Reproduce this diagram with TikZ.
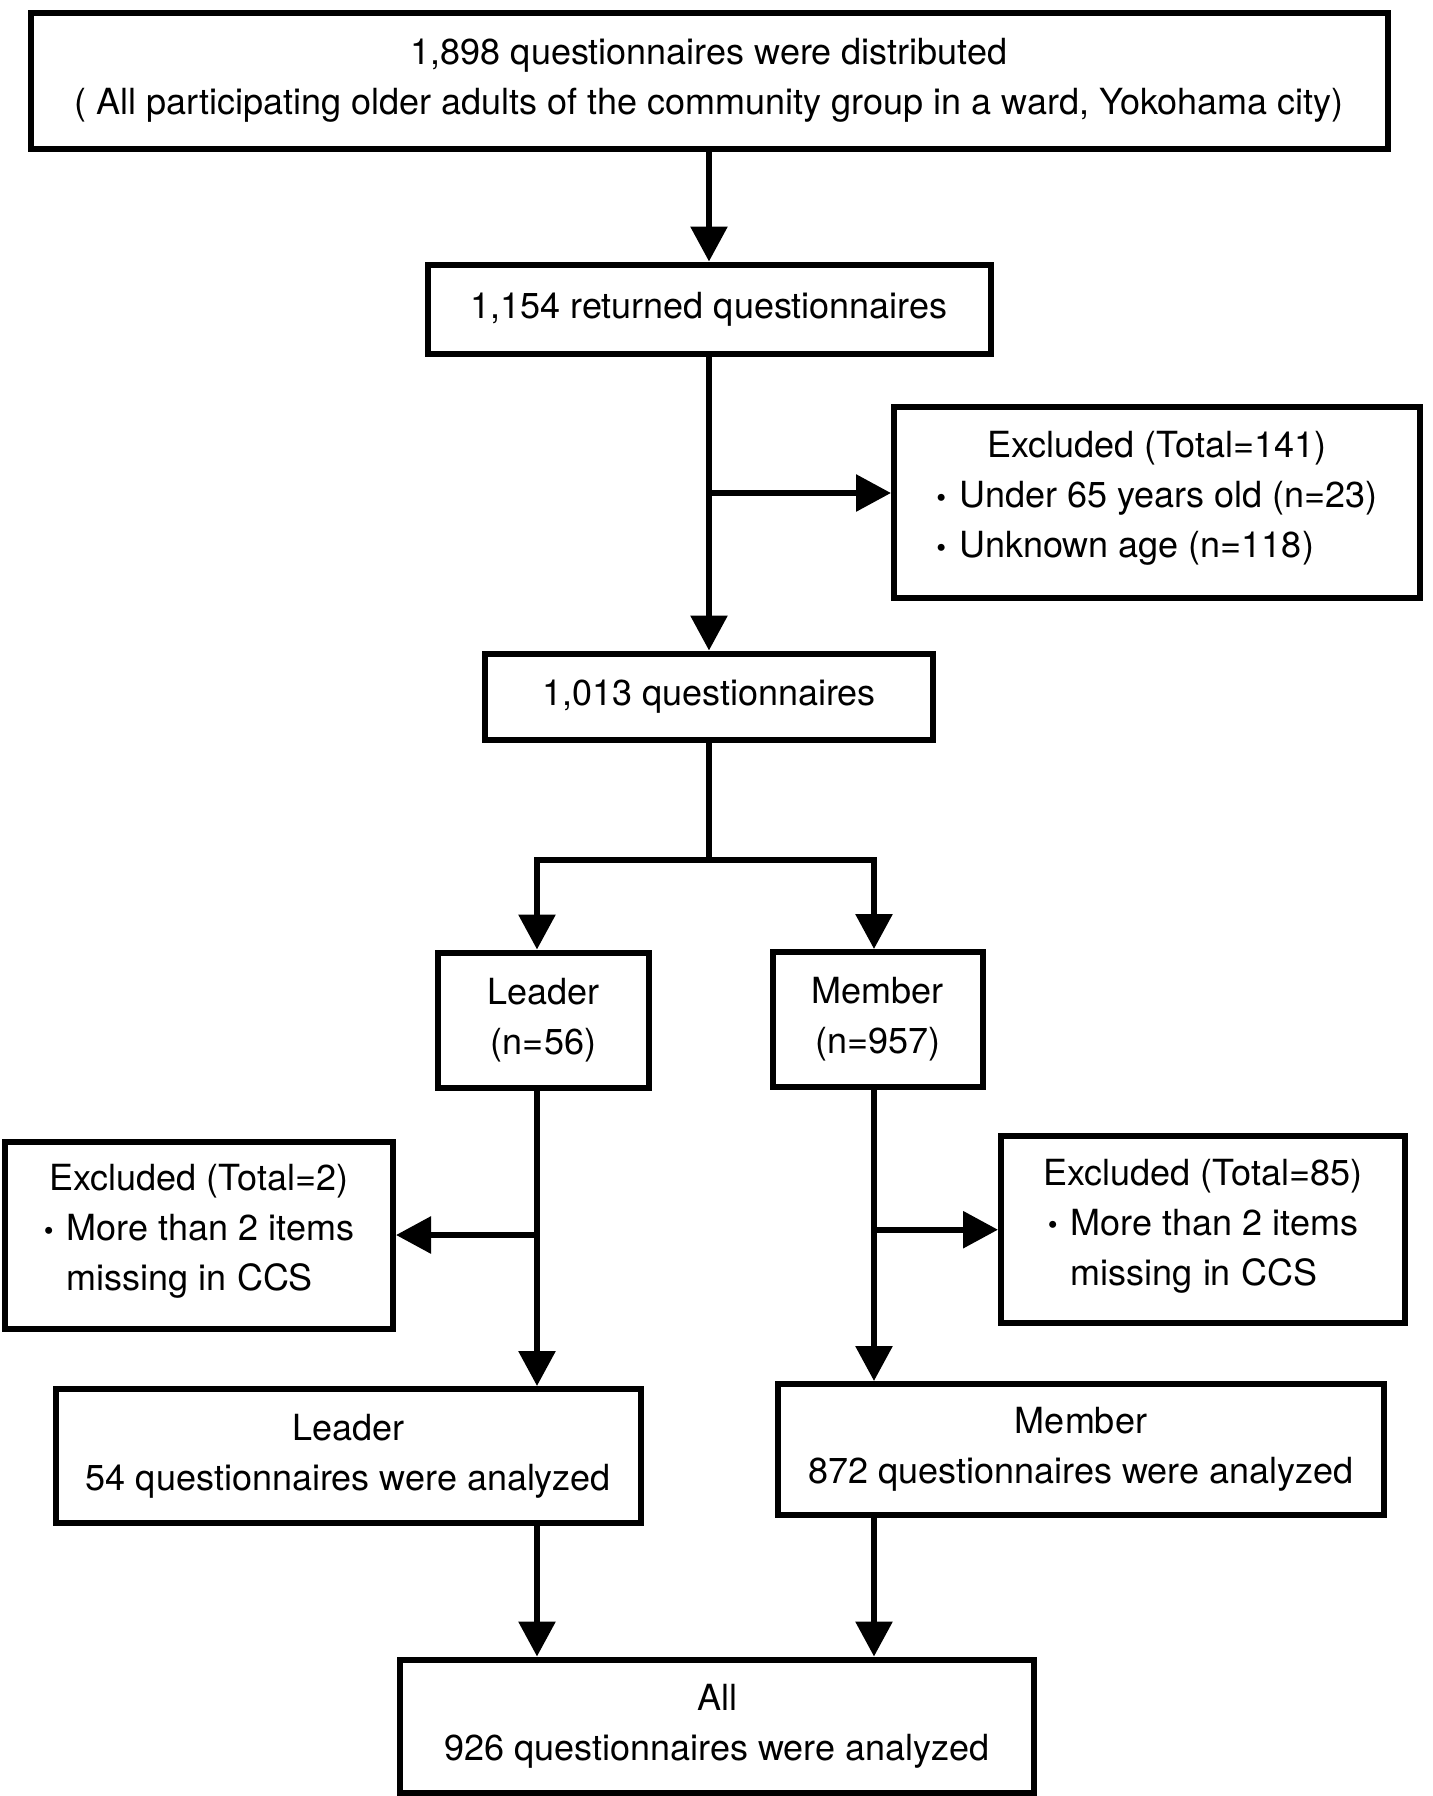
\documentclass[tikz,border=0pt]{standalone}
\usepackage{fontspec}
\setmainfont{TeX Gyre Heros}
\usetikzlibrary{positioning,arrows.meta}

\newcommand{\bul}{\makebox[11.5pt][l]{\raisebox{0.3pt}{\fontsize{14}{14}\selectfont\textbullet}}}

\begin{document}
\begin{tikzpicture}[x=0.5pt,y=-0.5pt,
    box/.style={draw, line width=3pt, align=center, inner sep=0pt,
        font=\fontsize{18}{25}\selectfont},
    arr/.style={line width=3pt, -{Triangle[length=17.5pt,width=18pt]}},
    link/.style={line width=3pt}]

    \useasboundingbox (0,0) rectangle (1432,1796);

    % distributed
    \node [box,
        minimum width=678.5pt,
        minimum height=68pt
    ] (dist) at (709,80.5) {1,898 questionnaires were distributed\\( All participating older adults of the community group in a ward, Yokohama city)};

    % returned
    \node [box,
        minimum width=281.5pt,
        minimum height=44.5pt,
        below=55pt of dist
    ] (ret) {1,154 returned questionnaires};

    % valid age
    \node [box,
        minimum width=224pt,
        minimum height=43pt,
        below=147pt of ret
    ] (valid) {1,013 questionnaires};

    % excluded by age
    \node [box,
        minimum width=263pt,
        minimum height=95.5pt
    ] (exage) at (1157,502) {Excluded (Total=141)\\
        \begin{tabular}[t]{@{}l@{}}\bul Under 65 years old (n=23)\\\bul Unknown age (n=118)\end{tabular}};

    % leader
    \node [box,
        minimum width=105.5pt,
        minimum height=67.5pt
    ] (leader) at (543.5,1020) {Leader\\(n=56)};

    % member
    \node [box,
        minimum width=105pt,
        minimum height=67.5pt
    ] (member) at (877.7,1019.5) {Member\\(n=957)};

    % excluded leader
    \node [box,
        minimum width=194pt,
        minimum height=93.5pt
    ] (exlead) at (199,1235) {Excluded (Total=2)\\
        \begin{tabular}[t]{@{}l@{}}\bul More than 2 items\\\hphantom{\bul}missing in CCS\end{tabular}};

    % excluded member
    \node [box,
        minimum width=202pt,
        minimum height=93.5pt
    ] (exmem) at (1203,1229.7) {Excluded (Total=85)\\
        \begin{tabular}[t]{@{}l@{}}\bul More than 2 items\\\hphantom{\bul}missing in CCS\end{tabular}};

    % analyzed leader
    \node [box,
        minimum width=292.5pt,
        minimum height=67pt
    ] (leadok) at (348.4,1456) {Leader\\54 questionnaires were analyzed};

    % analyzed member
    \node [box,
        minimum width=303pt,
        minimum height=65.5pt
    ] (memok) at (1081,1449.5) {Member\\872 questionnaires were analyzed};

    % all
    \node [box,
        minimum width=317pt,
        minimum height=66.5pt
    ] (all) at (717,1726) {All\\926 questionnaires were analyzed};

    % branch points
    \coordinate (split) at (709,493);
    \coordinate (fork) at (709,860);
    \coordinate (colL) at (537,0);
    \coordinate (colR) at (874,0);

    % arrows
    \draw[arr] (dist) -- (ret);
    \draw[arr] (ret) -- (valid);
    \draw[arr] (split) -- (split -| exage.west);

    \draw[link] (valid) -- (fork);
    \draw[arr] (fork) -| (colL |- leader.north);
    \draw[arr] (fork) -| (colR |- member.north);

    \draw[arr] (colL |- leader.south) -- (colL |- leadok.north);
    \draw[arr] (colL |- exlead.east) -- (exlead.east);
    \draw[arr] (colR |- member.south) -- (colR |- memok.north);
    \draw[arr] (colR |- exmem.west) -- (exmem.west);

    \draw[arr] (colL |- leadok.south) -- (colL |- all.north);
    \draw[arr] (colR |- memok.south) -- (colR |- all.north);

\end{tikzpicture}
\end{document}
